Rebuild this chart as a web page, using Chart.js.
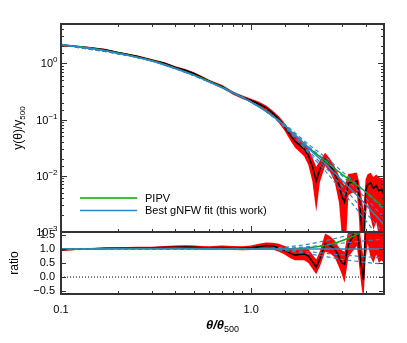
<!DOCTYPE html>
<html lang="en">
<head>
    <meta charset="UTF-8">
    <title>Pressure profile</title>
    <script src="https://cdn.jsdelivr.net/npm/chart.js@4.4.0/dist/chart.umd.min.js"></script>
    <style>
        * { margin: 0; padding: 0; box-sizing: border-box; }
        body { background: #fff; width: 407px; height: 343px; overflow: hidden; }
        #wrap { position: relative; width: 407px; height: 343px; }
        canvas { position: absolute; left: 0; top: 0; }
    </style>
</head>
<body>
<div id="wrap">
    <canvas id="profile" width="407" height="343"></canvas>
    <canvas id="ratio" width="407" height="343"></canvas>
</div>
<script>
// measured profile (black) with its error band (red)
const DATA_X  = [0.1,0.12,0.14,0.17,0.2,0.25,0.3,0.35,0.4,0.45,0.5,0.55,0.6,0.7,0.8,0.9,1.0,1.1,1.2,1.3,1.4,1.5,1.6,1.7,1.8,1.9,2.0,2.1,2.2,2.3,2.45,2.6,2.75,2.9,3.0,3.1,3.25,3.4,3.5,3.6,3.7,3.8,3.9,4.0,4.1,4.25,4.4,4.55,4.7,4.85,5.0];
const DATA_Y  = [2.09,2.0,1.9,1.75,1.55,1.34,1.14,1.0,0.84,0.75,0.66,0.56,0.485,0.39,0.30,0.25,0.218,0.189,0.162,0.13,0.101,0.075,0.054,0.041,0.035,0.030,0.023,0.0147,0.0081,0.0131,0.0196,0.0155,0.0112,0.0068,0.0043,0.0034,0.0074,0.0077,0.0078,0.0081,0.0045,0.0015,0.00025,0.0053,0.007,0.0075,0.0059,0.0067,0.0054,0.0057,0.0047];
const DATA_LO = [2.0,1.94,1.84,1.70,1.5,1.29,1.1,0.95,0.79,0.707,0.62,0.53,0.456,0.363,0.278,0.233,0.202,0.172,0.146,0.116,0.087,0.063,0.0435,0.0318,0.0264,0.0222,0.0155,0.008,0.0023,0.0077,0.0149,0.0117,0.0078,0.0033,0.00085,0.0002,0.0045,0.005,0.0049,0.005,0.0016,0.0002,0.0002,0.0019,0.0034,0.00175,0.0011,0.0015,0.00085,0.0009,0.00068];
const DATA_HI = [2.17,2.06,1.96,1.81,1.59,1.39,1.19,1.045,0.885,0.79,0.694,0.594,0.512,0.414,0.319,0.267,0.235,0.207,0.178,0.144,0.114,0.087,0.0653,0.0509,0.044,0.0385,0.031,0.0214,0.0144,0.0186,0.0257,0.02,0.0146,0.0099,0.0081,0.0068,0.0109,0.011,0.0113,0.0113,0.0078,0.0044,0.0024,0.0087,0.0106,0.0113,0.0095,0.0105,0.0094,0.009,0.0081];

// same profile divided by the best fit
const RATIO_Y  = [0.97,0.99,1.0,1.02,1.03,1.04,1.04,1.05,1.06,1.07,1.06,1.04,1.03,1.05,1.03,1.02,1.04,1.08,1.12,1.1,1.04,0.95,0.85,0.78,0.8,0.82,0.75,0.55,0.35,0.65,1.18,1.12,1.0,0.72,0.5,0.45,1.15,1.4,1.6,1.8,1.1,0.4,-0.1,1.7,2.5,3.0,2.7,3.5,3.2,3.8,3.5];
const RATIO_LO = [0.93,0.96,0.97,0.99,1.0,1.0,1.0,1.0,1.0,1.01,1.0,0.98,0.97,0.98,0.96,0.95,0.96,0.98,1.01,0.98,0.9,0.8,0.68,0.6,0.6,0.6,0.5,0.3,0.1,0.38,0.9,0.85,0.7,0.35,0.1,-0.2,0.7,0.9,1.0,1.1,0.4,-0.3,-0.8,0.6,1.2,0.7,0.5,0.8,0.5,0.6,0.5];
const RATIO_HI = [1.01,1.02,1.03,1.05,1.06,1.08,1.08,1.1,1.12,1.13,1.12,1.1,1.09,1.12,1.1,1.09,1.12,1.18,1.23,1.22,1.18,1.1,1.02,0.96,1.0,1.04,1.0,0.8,0.62,0.92,1.55,1.45,1.3,1.05,0.95,0.9,1.7,2.0,2.3,2.5,1.9,1.2,0.7,2.8,3.8,4.5,4.3,5.5,5.5,6.0,6.0];

// model curves
const FIT_X      = [0.1,0.15,0.2,0.3,0.4,0.5,0.6,0.8,1.0,1.2,1.4,1.6,1.8,2.0,2.4,2.8,3.2,3.6,4.0,4.5,5.0];
const BEST_Y     = [2.15,1.8,1.5,1.1,0.80,0.61,0.47,0.30,0.205,0.14,0.095,0.064,0.044,0.031,0.0175,0.0105,0.0067,0.0045,0.0031,0.0020,0.00135];
const PIPV_Y     = [2.17,1.82,1.53,1.12,0.82,0.62,0.48,0.305,0.205,0.14,0.095,0.064,0.045,0.032,0.0195,0.0128,0.0091,0.0068,0.0052,0.0037,0.0027];
const BEST_RATIO = [1,1,1,1,1,1,1,1,1,1,1,1,1,1,1,1,1,1,1,1,1];
const PIPV_RATIO = [1.01,1.01,1.02,1.02,1.03,1.02,1.02,1.02,1.0,1.0,1.0,1.0,1.02,1.04,1.11,1.22,1.36,1.51,1.68,1.85,2.0];

// other gNFW fits (dashed blue)
const DASH_X   = [0.1,0.3,0.6,1.0,1.2,1.6,2.0,2.5,3.0,3.5,4.0,4.5,5.0];
const DASH_A_Y = [2.15,1.1,0.47,0.205,0.14,0.0659,0.0335,0.018,0.0101,0.00625,0.004,0.00264,0.00182];
const DASH_B_Y = [2.15,1.1,0.47,0.205,0.14,0.0614,0.0279,0.0133,0.0066,0.00375,0.00223,0.0014,0.00092];
const DASH_C_Y = [2.15,1.1,0.47,0.205,0.1386,0.0589,0.0257,0.0114,0.0053,0.00285,0.00161,0.00098,0.00063];
const DASH_D_Y = [2.15,1.1,0.47,0.205,0.1414,0.0691,0.0363,0.0205,0.012,0.00775,0.00518,0.00354,0.0025];
const DASH_A_R = [1,1,1,1,1.0,1.03,1.08,1.14,1.2,1.25,1.29,1.32,1.35];
const DASH_B_R = [1,1,1,1,1.0,0.96,0.9,0.84,0.79,0.75,0.72,0.7,0.68];
const DASH_C_R = [1,1,1,1,0.99,0.92,0.83,0.72,0.63,0.57,0.52,0.49,0.47];
const DASH_D_R = [1,1,1,1,1.01,1.08,1.17,1.3,1.43,1.55,1.67,1.77,1.85];

const ZERO_X = [0.1, 5.0];
const ZERO_Y = [0, 0];

const X_LABELS = { '0.1': '0.1', '1': '1.0' };
const Y_TITLE = ['y(\u03b8)/y', '500'];
const X_TITLE = ['\u03b8/\u03b8', '500'];

const FONT = "'Liberation Sans', 'DejaVu Sans', Arial, sans-serif";
const RED = '#ff0000', GREEN = '#00a800', BLUE = '#2f86c6';

function pts(xs, ys) { return xs.map((x, i) => ({ x: x, y: ys[i] })); }
function isDecade(v) { const l = Math.log10(v); return Math.abs(l - Math.round(l)) < 1e-6; }

function line(label, xs, ys, color, extra) {
    return Object.assign({
        label: label, data: pts(xs, ys), borderColor: color, backgroundColor: color,
        borderWidth: 1.5, pointRadius: 0, fill: false, tension: 0
    }, extra || {});
}

// draws a run of text pieces, each with its own size and baseline shift
function drawRich(ctx, parts, x, y, align) {
    let total = 0;
    parts.forEach(p => { ctx.font = p.font; total += ctx.measureText(p.text).width; });
    let cx = align === 'right' ? x - total : align === 'center' ? x - total / 2 : x;
    ctx.textAlign = 'left';
    ctx.textBaseline = 'alphabetic';
    parts.forEach(p => {
        ctx.font = p.font;
        ctx.fillText(p.text, cx, y + (p.dy || 0));
        cx += ctx.measureText(p.text).width;
    });
}

// box round the panel, ticks pointing inwards
const framePlugin = {
    id: 'frame',
    afterDatasetsDraw(chart, args, opts) {
        const { ctx, chartArea: a } = chart;
        const xs = chart.scales.x, ys = chart.scales.y;
        ctx.save();
        ctx.strokeStyle = '#333';
        ctx.lineWidth = 1;
        ctx.beginPath();
        xs.ticks.forEach(t => {
            const px = Math.round(xs.getPixelForValue(t.value)) + 0.5;
            const len = isDecade(t.value) ? 6 : 3;
            ctx.moveTo(px, a.bottom); ctx.lineTo(px, a.bottom - len);
            if (opts.topTicks) { ctx.moveTo(px, a.top); ctx.lineTo(px, a.top + len); }
        });
        ys.ticks.forEach(t => {
            const py = Math.round(ys.getPixelForValue(t.value)) + 0.5;
            const len = opts.logY ? (isDecade(t.value) ? 6 : 3) : 5;
            ctx.moveTo(a.left, py); ctx.lineTo(a.left + len, py);
            ctx.moveTo(a.right, py); ctx.lineTo(a.right - len, py);
        });
        ctx.stroke();
        ctx.lineWidth = 2;
        ctx.strokeRect(a.left, a.top, a.width, a.height);
        ctx.restore();
    }
};

// power-of-ten labels and the rotated y title of the top panel
const topTextPlugin = {
    id: 'topText',
    afterDraw(chart) {
        const { ctx, chartArea: a } = chart;
        const ys = chart.scales.y;
        ctx.save();
        ctx.fillStyle = '#000';
        ys.ticks.forEach(t => {
            if (!isDecade(t.value)) return;
            const e = Math.round(Math.log10(t.value));
            const py = ys.getPixelForValue(t.value);
            drawRich(ctx, [
                { text: '10', font: '11px ' + FONT },
                { text: e < 0 ? '\u2212' + (-e) : String(e), font: '8px ' + FONT, dy: -5 }
            ], a.left - 3.5, py + 4, 'right');
        });
        ctx.translate(22, (a.top + a.bottom) / 2);
        ctx.rotate(-Math.PI / 2);
        drawRich(ctx, [
            { text: Y_TITLE[0], font: '12px ' + FONT },
            { text: Y_TITLE[1], font: '8px ' + FONT, dy: 3 }
        ], 0, 0, 'center');
        ctx.restore();
    }
};

// x title of the ratio panel
const bottomTextPlugin = {
    id: 'bottomText',
    afterDraw(chart) {
        const { ctx, chartArea: a } = chart;
        ctx.save();
        ctx.fillStyle = '#000';
        drawRich(ctx, [
            { text: X_TITLE[0], font: 'italic bold 13px ' + FONT },
            { text: X_TITLE[1], font: '9px ' + FONT, dy: 3 }
        ], (a.left + a.right) / 2, 329, 'center');
        ctx.restore();
    }
};

// legend sitting inside the lower left of the top panel
const legendPlugin = {
    id: 'inlineLegend',
    afterDatasetsDraw(chart) {
        const { ctx, chartArea: a } = chart;
        const items = chart.data.datasets.filter(d => d.legendOrder).sort((p, q) => p.legendOrder - q.legendOrder);
        ctx.save();
        ctx.font = '11px ' + FONT;
        ctx.textBaseline = 'middle';
        ctx.fillStyle = '#000';
        items.forEach((d, i) => {
            const y = a.bottom - 34 + i * 12.5;
            ctx.strokeStyle = d.borderColor;
            ctx.lineWidth = 1.5;
            ctx.beginPath();
            ctx.moveTo(a.left + 19, y); ctx.lineTo(a.left + 76, y);
            ctx.stroke();
            ctx.fillText(d.label, a.left + 84, y + 0.5);
        });
        ctx.restore();
    }
};

const noGrid = { display: false, drawTicks: false };
const noBorder = { display: false };
const dashed = { borderWidth: 1.2, borderDash: [4, 3], cubicInterpolationMode: 'monotone' };
const smooth = { cubicInterpolationMode: 'monotone' };

new Chart(document.getElementById('profile'), {
    type: 'line',
    data: {
        datasets: [
            line('Best gNFW fit (this work)', FIT_X, BEST_Y, BLUE, { legendOrder: 2, cubicInterpolationMode: 'monotone' }),
            line('fit a', DASH_X, DASH_A_Y, BLUE, dashed),
            line('fit b', DASH_X, DASH_B_Y, BLUE, dashed),
            line('fit c', DASH_X, DASH_C_Y, BLUE, dashed),
            line('fit d', DASH_X, DASH_D_Y, BLUE, dashed),
            line('PIPV', FIT_X, PIPV_Y, GREEN, { legendOrder: 1, cubicInterpolationMode: 'monotone' }),
            line('data', DATA_X, DATA_Y, '#000'),
            line('upper', DATA_X, DATA_HI, RED, { borderWidth: 0, fill: '+1' }),
            line('lower', DATA_X, DATA_LO, RED, { borderWidth: 0 })
        ]
    },
    options: {
        responsive: false,
        animation: false,
        devicePixelRatio: 1,
        layout: { padding: { left: 0, top: 24, right: 23, bottom: 111 } },
        plugins: {
            legend: { display: false },
            tooltip: { enabled: false },
            frame: { topTicks: true, logY: true }
        },
        scales: {
            x: {
                type: 'logarithmic', min: 0.1, max: 5,
                ticks: { display: false, autoSkip: false },
                grid: noGrid, border: noBorder,
                afterFit: s => { s.height = 0; }
            },
            y: {
                type: 'logarithmic', min: 0.001, max: 5,
                ticks: { display: false, autoSkip: false },
                grid: noGrid, border: noBorder,
                afterFit: s => { s.width = 61; }
            }
        }
    },
    plugins: [framePlugin, legendPlugin, topTextPlugin]
});

new Chart(document.getElementById('ratio'), {
    type: 'line',
    data: {
        datasets: [
            line('Best gNFW fit (this work)', FIT_X, BEST_RATIO, BLUE),
            line('fit a', DASH_X, DASH_A_R, BLUE, dashed),
            line('fit b', DASH_X, DASH_B_R, BLUE, dashed),
            line('fit c', DASH_X, DASH_C_R, BLUE, dashed),
            line('fit d', DASH_X, DASH_D_R, BLUE, dashed),
            line('PIPV', FIT_X, PIPV_RATIO, GREEN, smooth),
            line('data', DATA_X, RATIO_Y, '#000'),
            line('upper', DATA_X, RATIO_HI, RED, { borderWidth: 0, fill: '+1' }),
            line('lower', DATA_X, RATIO_LO, RED, { borderWidth: 0 }),
            line('zero', ZERO_X, ZERO_Y, '#000', { borderWidth: 1, borderDash: [1, 2] })
        ]
    },
    options: {
        responsive: false,
        animation: false,
        devicePixelRatio: 1,
        layout: { padding: { left: 0, top: 232, right: 23, bottom: 0 } },
        plugins: {
            legend: { display: false },
            tooltip: { enabled: false },
            frame: { topTicks: false, logY: false }
        },
        scales: {
            x: {
                type: 'logarithmic', min: 0.1, max: 5,
                ticks: {
                    autoSkip: false, maxRotation: 0, padding: 9, color: '#000',
                    font: { family: FONT, size: 11 },
                    callback: v => isDecade(v) ? (X_LABELS[String(v)] || '') : ''
                },
                grid: noGrid, border: noBorder,
                afterFit: s => { s.height = 49; }
            },
            y: {
                type: 'linear', min: -0.6, max: 1.6,
                ticks: {
                    stepSize: 0.5, includeBounds: false, autoSkip: false, padding: 6, color: '#000',
                    font: { family: FONT, size: 11 },
                    callback: v => Math.abs(v) < 1e-9 ? '0.0' : (v < 0 ? '\u2212' + Math.abs(v).toFixed(1) : v.toFixed(1))
                },
                grid: noGrid, border: noBorder,
                title: {
                    display: true, text: 'ratio', color: '#000',
                    font: { family: FONT, size: 12 }, padding: { top: 7, bottom: 0 }
                },
                afterFit: s => { s.width = 61; }
            }
        }
    },
    plugins: [framePlugin, bottomTextPlugin]
});
</script>
</body>
</html>
